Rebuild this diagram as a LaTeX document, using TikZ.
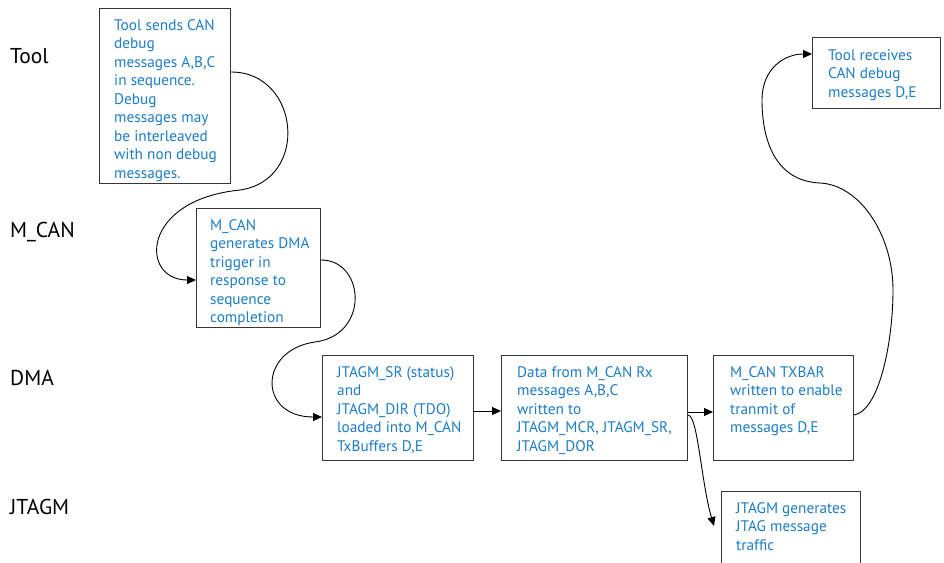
\documentclass[tikz,border=0pt]{standalone}
\usepackage{fontspec}
\setmainfont{PT Sans}
\usetikzlibrary{arrows.meta,calc}
\definecolor{noteblue}{RGB}{28,124,196}
\definecolor{frameline}{RGB}{55,55,55}
\begin{document}
\begin{tikzpicture}[x=1pt,y=-1pt,
  lane/.style={anchor=base west, inner sep=0pt, text=black, font=\fontsize{21.5}{24}\selectfont},
  stagebox/.style={draw=frameline, line width=1.1pt, anchor=north west, inner sep=0pt},
  stagetext/.style={anchor=north west, align=left, inner sep=0pt, text=noteblue,
    font=\fontsize{15.3}{18.5}\selectfont},
  flow/.style={draw=black, line width=0.9pt, -{Triangle[length=9pt,width=8pt]}},
]
\useasboundingbox (0,0) rectangle (944,562);
\clip (0,0) rectangle (944,562);

% swim-lane names
\node[lane] (lTool) at (10,63) {Tool};
\node[lane] (lCan)  at (10,237) {M\_CAN};
\node[lane] (lDma)  at (10,385) {DMA};
\node[lane] (lJtag) at (10,514) {JTAGM};

% stage frames
\node[stagebox, minimum width=131pt, minimum height=175pt] (b1) at (99,8) {};
\node[stagebox, minimum width=124pt, minimum height=119pt] (b2) at (196,208) {};
\node[stagebox, minimum width=151pt, minimum height=105pt] (b3) at (322,355) {};
\node[stagebox, minimum width=186pt, minimum height=105pt] (b4) at (501,355) {};
\node[stagebox, minimum width=140pt, minimum height=105pt] (b5) at (713,355) {};
\node[stagebox, minimum width=128pt, minimum height=71pt]  (b6) at (812,37) {};
\node[stagebox, minimum width=139pt, minimum height=95pt]  (b7) at (721,491) {};

% stage descriptions
\node[stagetext] (t1) at ($(b1.north west)+(15,11)$) {Tool sends CAN\\debug\\messages A,B,C\\in sequence.\\Debug\\messages may\\be interleaved\\with non debug\\messages.};
\node[stagetext] (t2) at ($(b2.north west)+(14,11)$) {M\_CAN\\generates DMA\\trigger in\\response to\\sequence\\completion};
\node[stagetext] (t3) at ($(b3.north west)+(15,11)$) {JTAGM\_SR (status)\\and\\JTAGM\_DIR (TDO)\\loaded into M\_CAN\\TxBuffers D,E};
\node[stagetext] (t4) at ($(b4.north west)+(16,11)$) {Data from M\_CAN Rx\\messages A,B,C\\written to\\JTAGM\_MCR, JTAGM\_SR,\\JTAGM\_DOR};
\node[stagetext] (t5) at ($(b5.north west)+(17,11)$) {M\_CAN TXBAR\\written to enable\\tranmit of\\messages D,E};
\node[stagetext] (t6) at ($(b6.north west)+(16,12)$) {Tool receives\\CAN debug\\messages D,E};
\node[stagetext] (t7) at ($(b7.north west)+(15,11)$) {JTAGM generates\\JTAG message\\traffic};

% free end of the JTAGM arrow
\coordinate (j7) at ($(b7.north west)+(-7,35)$);

% connectors
\draw[flow] ($(b1.north east)+(0,64)$) .. controls (300,72) and (310,180) .. (240,190)
  .. controls (140,200) and (140,280) .. ($(b2.north west)+(0,72)$);
\draw[flow] ($(b2.north east)+(0,52)$) .. controls (365,260) and (370,335) .. (315,342)
  .. controls (258,350) and (258,417) .. ($(b3.north west)+(0,62)$);
\draw[flow] ($(b3.north east)+(0,56)$) -- ($(b4.north west)+(0,56)$);
\draw[flow] ($(b4.north east)+(0,57)$) -- ($(b5.north west)+(0,57)$);
\draw[flow] ($(b4.north east)+(0,60)$) .. controls (698,416) and (701,482) .. (j7);
\draw[flow] ($(b5.north east)+(0,60)$) .. controls (880,410) and (893,340) .. (893,290)
  .. controls (893,235) and (860,185) .. (820,183)
  .. controls (775,181) and (762,140) .. (762,100)
  .. controls (762,68) and (785,54) .. ($(b6.north west)+(0,17)$);
\end{tikzpicture}
\end{document}
